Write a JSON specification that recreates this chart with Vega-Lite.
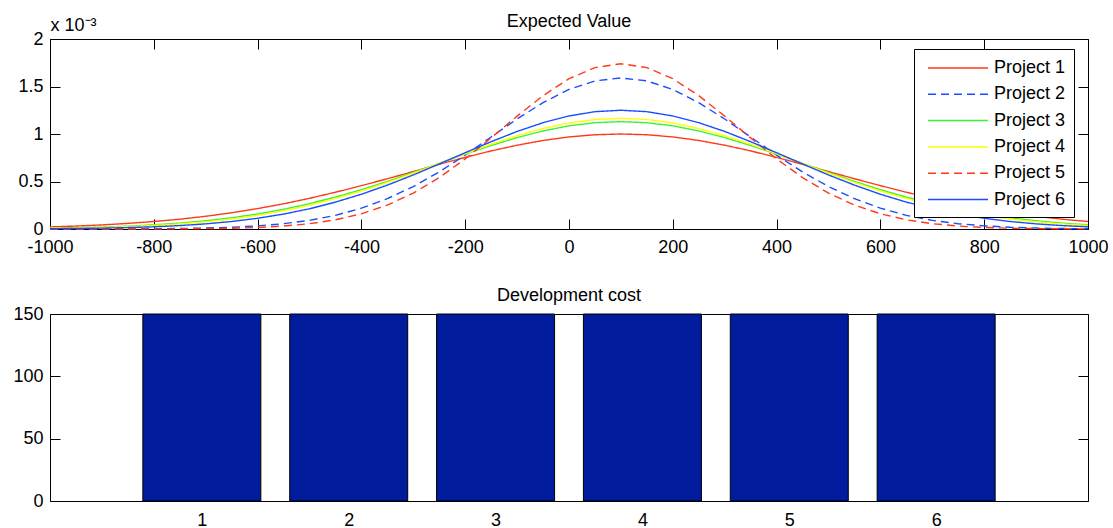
{
  "$schema": "https://vega.github.io/schema/vega-lite/v6.json",
  "background": "white",
  "padding": {"left": 12, "top": 12, "right": 5, "bottom": 5},
  "spacing": 29,
  "config": {
    "font": "Liberation Sans",
    "view": {"stroke": "black", "strokeWidth": 1},
    "axis": {"labelFont": "Liberation Sans", "labelFontSize": 18, "labelColor": "black", "tickColor": "black", "tickWidth": 1, "domain": false, "grid": false},
    "title": {"font": "Liberation Sans", "fontSize": 18, "fontWeight": "normal", "color": "black"},
    "legend": {"orient": "none", "legendX": 864, "legendY": 10, "strokeColor": "black", "fillColor": "white", "padding": 8, "symbolType": "M-3,0H3", "symbolSize": 400, "symbolOffset": 25, "symbolStrokeWidth": 1.5, "labelFontSize": 18, "labelFont": "Liberation Sans", "labelColor": "black", "labelOffset": 25, "rowPadding": 6.3, "cornerRadius": 0}
  },
  "vconcat": [
    {
      "width": 1038,
      "height": 190,
      "title": {"text": "Expected Value", "offset": -15},
      "data": {"values": [
        {"x":-1000,"y":0.022,"s":"Project 1"},{"x":-950,"y":0.031,"s":"Project 1"},{"x":-900,"y":0.043,"s":"Project 1"},{"x":-850,"y":0.059,"s":"Project 1"},{"x":-800,"y":0.079,"s":"Project 1"},{"x":-750,"y":0.103,"s":"Project 1"},{"x":-700,"y":0.134,"s":"Project 1"},{"x":-650,"y":0.171,"s":"Project 1"},{"x":-600,"y":0.215,"s":"Project 1"},{"x":-550,"y":0.265,"s":"Project 1"},{"x":-500,"y":0.323,"s":"Project 1"},{"x":-450,"y":0.387,"s":"Project 1"},{"x":-400,"y":0.456,"s":"Project 1"},{"x":-350,"y":0.529,"s":"Project 1"},{"x":-300,"y":0.605,"s":"Project 1"},{"x":-250,"y":0.681,"s":"Project 1"},{"x":-200,"y":0.754,"s":"Project 1"},{"x":-150,"y":0.822,"s":"Project 1"},{"x":-100,"y":0.882,"s":"Project 1"},{"x":-50,"y":0.932,"s":"Project 1"},{"x":0,"y":0.969,"s":"Project 1"},{"x":50,"y":0.992,"s":"Project 1"},{"x":100,"y":1.0,"s":"Project 1"},{"x":150,"y":0.992,"s":"Project 1"},{"x":200,"y":0.969,"s":"Project 1"},{"x":250,"y":0.932,"s":"Project 1"},{"x":300,"y":0.882,"s":"Project 1"},{"x":350,"y":0.822,"s":"Project 1"},{"x":400,"y":0.754,"s":"Project 1"},{"x":450,"y":0.681,"s":"Project 1"},{"x":500,"y":0.605,"s":"Project 1"},{"x":550,"y":0.529,"s":"Project 1"},{"x":600,"y":0.456,"s":"Project 1"},{"x":650,"y":0.387,"s":"Project 1"},{"x":700,"y":0.323,"s":"Project 1"},{"x":750,"y":0.265,"s":"Project 1"},{"x":800,"y":0.215,"s":"Project 1"},{"x":850,"y":0.171,"s":"Project 1"},{"x":900,"y":0.134,"s":"Project 1"},{"x":950,"y":0.103,"s":"Project 1"},{"x":1000,"y":0.079,"s":"Project 1"},
        {"x":-1000,"y":0.0,"s":"Project 2"},{"x":-950,"y":0.0,"s":"Project 2"},{"x":-900,"y":0.001,"s":"Project 2"},{"x":-850,"y":0.001,"s":"Project 2"},{"x":-800,"y":0.003,"s":"Project 2"},{"x":-750,"y":0.005,"s":"Project 2"},{"x":-700,"y":0.01,"s":"Project 2"},{"x":-650,"y":0.018,"s":"Project 2"},{"x":-600,"y":0.033,"s":"Project 2"},{"x":-550,"y":0.056,"s":"Project 2"},{"x":-500,"y":0.091,"s":"Project 2"},{"x":-450,"y":0.144,"s":"Project 2"},{"x":-400,"y":0.219,"s":"Project 2"},{"x":-350,"y":0.319,"s":"Project 2"},{"x":-300,"y":0.447,"s":"Project 2"},{"x":-250,"y":0.601,"s":"Project 2"},{"x":-200,"y":0.778,"s":"Project 2"},{"x":-150,"y":0.968,"s":"Project 2"},{"x":-100,"y":1.158,"s":"Project 2"},{"x":-50,"y":1.33,"s":"Project 2"},{"x":0,"y":1.469,"s":"Project 2"},{"x":50,"y":1.559,"s":"Project 2"},{"x":100,"y":1.59,"s":"Project 2"},{"x":150,"y":1.559,"s":"Project 2"},{"x":200,"y":1.469,"s":"Project 2"},{"x":250,"y":1.33,"s":"Project 2"},{"x":300,"y":1.158,"s":"Project 2"},{"x":350,"y":0.968,"s":"Project 2"},{"x":400,"y":0.778,"s":"Project 2"},{"x":450,"y":0.601,"s":"Project 2"},{"x":500,"y":0.447,"s":"Project 2"},{"x":550,"y":0.319,"s":"Project 2"},{"x":600,"y":0.219,"s":"Project 2"},{"x":650,"y":0.144,"s":"Project 2"},{"x":700,"y":0.091,"s":"Project 2"},{"x":750,"y":0.056,"s":"Project 2"},{"x":800,"y":0.033,"s":"Project 2"},{"x":850,"y":0.018,"s":"Project 2"},{"x":900,"y":0.01,"s":"Project 2"},{"x":950,"y":0.005,"s":"Project 2"},{"x":1000,"y":0.003,"s":"Project 2"},
        {"x":-1000,"y":0.009,"s":"Project 3"},{"x":-950,"y":0.014,"s":"Project 3"},{"x":-900,"y":0.02,"s":"Project 3"},{"x":-850,"y":0.03,"s":"Project 3"},{"x":-800,"y":0.044,"s":"Project 3"},{"x":-750,"y":0.062,"s":"Project 3"},{"x":-700,"y":0.087,"s":"Project 3"},{"x":-650,"y":0.118,"s":"Project 3"},{"x":-600,"y":0.158,"s":"Project 3"},{"x":-550,"y":0.207,"s":"Project 3"},{"x":-500,"y":0.267,"s":"Project 3"},{"x":-450,"y":0.336,"s":"Project 3"},{"x":-400,"y":0.414,"s":"Project 3"},{"x":-350,"y":0.501,"s":"Project 3"},{"x":-300,"y":0.595,"s":"Project 3"},{"x":-250,"y":0.691,"s":"Project 3"},{"x":-200,"y":0.788,"s":"Project 3"},{"x":-150,"y":0.879,"s":"Project 3"},{"x":-100,"y":0.962,"s":"Project 3"},{"x":-50,"y":1.032,"s":"Project 3"},{"x":0,"y":1.086,"s":"Project 3"},{"x":50,"y":1.119,"s":"Project 3"},{"x":100,"y":1.13,"s":"Project 3"},{"x":150,"y":1.119,"s":"Project 3"},{"x":200,"y":1.086,"s":"Project 3"},{"x":250,"y":1.032,"s":"Project 3"},{"x":300,"y":0.962,"s":"Project 3"},{"x":350,"y":0.879,"s":"Project 3"},{"x":400,"y":0.788,"s":"Project 3"},{"x":450,"y":0.691,"s":"Project 3"},{"x":500,"y":0.595,"s":"Project 3"},{"x":550,"y":0.501,"s":"Project 3"},{"x":600,"y":0.414,"s":"Project 3"},{"x":650,"y":0.336,"s":"Project 3"},{"x":700,"y":0.267,"s":"Project 3"},{"x":750,"y":0.207,"s":"Project 3"},{"x":800,"y":0.158,"s":"Project 3"},{"x":850,"y":0.118,"s":"Project 3"},{"x":900,"y":0.087,"s":"Project 3"},{"x":950,"y":0.062,"s":"Project 3"},{"x":1000,"y":0.044,"s":"Project 3"},
        {"x":-1000,"y":0.007,"s":"Project 4"},{"x":-950,"y":0.01,"s":"Project 4"},{"x":-900,"y":0.016,"s":"Project 4"},{"x":-850,"y":0.025,"s":"Project 4"},{"x":-800,"y":0.037,"s":"Project 4"},{"x":-750,"y":0.053,"s":"Project 4"},{"x":-700,"y":0.076,"s":"Project 4"},{"x":-650,"y":0.105,"s":"Project 4"},{"x":-600,"y":0.143,"s":"Project 4"},{"x":-550,"y":0.191,"s":"Project 4"},{"x":-500,"y":0.25,"s":"Project 4"},{"x":-450,"y":0.32,"s":"Project 4"},{"x":-400,"y":0.4,"s":"Project 4"},{"x":-350,"y":0.49,"s":"Project 4"},{"x":-300,"y":0.588,"s":"Project 4"},{"x":-250,"y":0.69,"s":"Project 4"},{"x":-200,"y":0.793,"s":"Project 4"},{"x":-150,"y":0.892,"s":"Project 4"},{"x":-100,"y":0.982,"s":"Project 4"},{"x":-50,"y":1.058,"s":"Project 4"},{"x":0,"y":1.116,"s":"Project 4"},{"x":50,"y":1.153,"s":"Project 4"},{"x":100,"y":1.165,"s":"Project 4"},{"x":150,"y":1.153,"s":"Project 4"},{"x":200,"y":1.116,"s":"Project 4"},{"x":250,"y":1.058,"s":"Project 4"},{"x":300,"y":0.982,"s":"Project 4"},{"x":350,"y":0.892,"s":"Project 4"},{"x":400,"y":0.793,"s":"Project 4"},{"x":450,"y":0.69,"s":"Project 4"},{"x":500,"y":0.588,"s":"Project 4"},{"x":550,"y":0.49,"s":"Project 4"},{"x":600,"y":0.4,"s":"Project 4"},{"x":650,"y":0.32,"s":"Project 4"},{"x":700,"y":0.25,"s":"Project 4"},{"x":750,"y":0.191,"s":"Project 4"},{"x":800,"y":0.143,"s":"Project 4"},{"x":850,"y":0.105,"s":"Project 4"},{"x":900,"y":0.076,"s":"Project 4"},{"x":950,"y":0.053,"s":"Project 4"},{"x":1000,"y":0.037,"s":"Project 4"},
        {"x":-1000,"y":0.0,"s":"Project 5"},{"x":-950,"y":0.0,"s":"Project 5"},{"x":-900,"y":0.0,"s":"Project 5"},{"x":-850,"y":0.0,"s":"Project 5"},{"x":-800,"y":0.001,"s":"Project 5"},{"x":-750,"y":0.002,"s":"Project 5"},{"x":-700,"y":0.004,"s":"Project 5"},{"x":-650,"y":0.008,"s":"Project 5"},{"x":-600,"y":0.016,"s":"Project 5"},{"x":-550,"y":0.031,"s":"Project 5"},{"x":-500,"y":0.056,"s":"Project 5"},{"x":-450,"y":0.097,"s":"Project 5"},{"x":-400,"y":0.16,"s":"Project 5"},{"x":-350,"y":0.252,"s":"Project 5"},{"x":-300,"y":0.378,"s":"Project 5"},{"x":-250,"y":0.541,"s":"Project 5"},{"x":-200,"y":0.738,"s":"Project 5"},{"x":-150,"y":0.959,"s":"Project 5"},{"x":-100,"y":1.188,"s":"Project 5"},{"x":-50,"y":1.404,"s":"Project 5"},{"x":0,"y":1.582,"s":"Project 5"},{"x":50,"y":1.699,"s":"Project 5"},{"x":100,"y":1.74,"s":"Project 5"},{"x":150,"y":1.699,"s":"Project 5"},{"x":200,"y":1.582,"s":"Project 5"},{"x":250,"y":1.404,"s":"Project 5"},{"x":300,"y":1.188,"s":"Project 5"},{"x":350,"y":0.959,"s":"Project 5"},{"x":400,"y":0.738,"s":"Project 5"},{"x":450,"y":0.541,"s":"Project 5"},{"x":500,"y":0.378,"s":"Project 5"},{"x":550,"y":0.252,"s":"Project 5"},{"x":600,"y":0.16,"s":"Project 5"},{"x":650,"y":0.097,"s":"Project 5"},{"x":700,"y":0.056,"s":"Project 5"},{"x":750,"y":0.031,"s":"Project 5"},{"x":800,"y":0.016,"s":"Project 5"},{"x":850,"y":0.008,"s":"Project 5"},{"x":900,"y":0.004,"s":"Project 5"},{"x":950,"y":0.002,"s":"Project 5"},{"x":1000,"y":0.001,"s":"Project 5"},
        {"x":-1000,"y":0.003,"s":"Project 6"},{"x":-950,"y":0.006,"s":"Project 6"},{"x":-900,"y":0.009,"s":"Project 6"},{"x":-850,"y":0.015,"s":"Project 6"},{"x":-800,"y":0.023,"s":"Project 6"},{"x":-750,"y":0.036,"s":"Project 6"},{"x":-700,"y":0.054,"s":"Project 6"},{"x":-650,"y":0.079,"s":"Project 6"},{"x":-600,"y":0.113,"s":"Project 6"},{"x":-550,"y":0.157,"s":"Project 6"},{"x":-500,"y":0.213,"s":"Project 6"},{"x":-450,"y":0.283,"s":"Project 6"},{"x":-400,"y":0.366,"s":"Project 6"},{"x":-350,"y":0.462,"s":"Project 6"},{"x":-300,"y":0.569,"s":"Project 6"},{"x":-250,"y":0.685,"s":"Project 6"},{"x":-200,"y":0.803,"s":"Project 6"},{"x":-150,"y":0.919,"s":"Project 6"},{"x":-100,"y":1.027,"s":"Project 6"},{"x":-50,"y":1.119,"s":"Project 6"},{"x":0,"y":1.19,"s":"Project 6"},{"x":50,"y":1.235,"s":"Project 6"},{"x":100,"y":1.25,"s":"Project 6"},{"x":150,"y":1.235,"s":"Project 6"},{"x":200,"y":1.19,"s":"Project 6"},{"x":250,"y":1.119,"s":"Project 6"},{"x":300,"y":1.027,"s":"Project 6"},{"x":350,"y":0.919,"s":"Project 6"},{"x":400,"y":0.803,"s":"Project 6"},{"x":450,"y":0.685,"s":"Project 6"},{"x":500,"y":0.569,"s":"Project 6"},{"x":550,"y":0.462,"s":"Project 6"},{"x":600,"y":0.366,"s":"Project 6"},{"x":650,"y":0.283,"s":"Project 6"},{"x":700,"y":0.213,"s":"Project 6"},{"x":750,"y":0.157,"s":"Project 6"},{"x":800,"y":0.113,"s":"Project 6"},{"x":850,"y":0.079,"s":"Project 6"},{"x":900,"y":0.054,"s":"Project 6"},{"x":950,"y":0.036,"s":"Project 6"},{"x":1000,"y":0.023,"s":"Project 6"}
      ]},
      "layer": [
        {
          "mark": {"type": "line", "strokeWidth": 1.4},
          "encoding": {
            "x": {"field": "x", "type": "quantitative", "scale": {"domain": [-1000, 1000], "nice": false, "zero": false},
                  "axis": {"orient": "bottom", "values": [-1000,-800,-600,-400,-200,0,200,400,600,800,1000], "ticks": false, "labelPadding": 9, "labelFlush": false, "labelOverlap": false, "labelExpr": "'' + datum.value", "title": null}},
            "y": {"field": "y", "type": "quantitative", "scale": {"domain": [0, 2], "nice": false},
                  "axis": {"orient": "left", "values": [0, 0.5, 1, 1.5, 2], "format": "~g", "ticks": false, "labelPadding": 7, "title": "x 10⁻³", "titleAngle": 0, "titleAlign": "left", "titleBaseline": "alphabetic", "titleX": 0, "titleY": -9, "titleFontSize": 18, "titleFontWeight": "normal", "titleFont": "Liberation Sans", "titleColor": "black"}},
            "color": {"field": "s", "type": "nominal", "scale": {"domain": ["Project 1","Project 2","Project 3","Project 4","Project 5","Project 6"], "range": ["#ff3a1a","#1a4dff","#3cf03c","#ffff00","#ff3a1a","#1a4dff"]}, "legend": {"title": null}},
            "strokeDash": {"field": "s", "type": "nominal", "scale": {"domain": ["Project 1","Project 2","Project 3","Project 4","Project 5","Project 6"], "range": [[1,0],[8,5],[1,0],[1,0],[8,5],[1,0]]}, "legend": {"title": null}}
          }
        },
        {
          "mark": {"type": "line", "opacity": 0},
          "encoding": {
            "x": {"field": "x", "type": "quantitative", "axis": {"orient": "bottom", "offset": -10, "values": [-1000,-800,-600,-400,-200,0,200,400,600,800,1000], "tickSize": 10, "labels": false, "title": null}},
            "y": {"field": "y", "type": "quantitative", "axis": {"orient": "left", "offset": -10, "values": [0, 0.5, 1, 1.5, 2], "tickSize": 10, "labels": false, "title": null}},
            "detail": {"field": "s"}
          }
        },
        {
          "mark": {"type": "line", "opacity": 0},
          "encoding": {
            "x": {"field": "x", "type": "quantitative", "axis": {"orient": "bottom", "offset": -190, "values": [-1000,-800,-600,-400,-200,0,200,400,600,800,1000], "tickSize": 10, "labels": false, "title": null}},
            "y": {"field": "y", "type": "quantitative", "axis": {"orient": "left", "offset": -1038, "values": [0, 0.5, 1, 1.5, 2], "tickSize": 10, "labels": false, "title": null}},
            "detail": {"field": "s"}
          }
        }
      ],
      "resolve": {"axis": {"x": "independent", "y": "independent"}}
    },
    {
      "width": 1038,
      "height": 187,
      "title": {"text": "Development cost", "offset": 0},
      "data": {"values": [
        {"p": 1, "cost": 150}, {"p": 2, "cost": 150}, {"p": 3, "cost": 150},
        {"p": 4, "cost": 150}, {"p": 5, "cost": 150}, {"p": 6, "cost": 150}
      ]},
      "layer": [
        {
          "mark": {"type": "bar", "fill": "#001c9c", "stroke": "black", "strokeWidth": 1, "size": 118},
          "encoding": {
            "x": {"field": "p", "type": "quantitative", "scale": {"domain": [0, 7], "nice": false, "zero": false},
                  "axis": {"orient": "bottom", "values": [1,2,3,4,5,6], "ticks": false, "labelPadding": 10, "labelFlush": false, "title": null}},
            "y": {"field": "cost", "type": "quantitative", "scale": {"domain": [0, 150], "nice": false},
                  "axis": {"orient": "left", "values": [0, 50, 100, 150], "ticks": false, "labelPadding": 7, "title": null}}
          }
        },
        {
          "mark": {"type": "bar", "opacity": 0, "size": 118},
          "encoding": {
            "x": {"field": "p", "type": "quantitative", "axis": null},
            "y": {"field": "cost", "type": "quantitative", "axis": {"orient": "left", "offset": -10, "values": [0, 50, 100, 150], "tickSize": 10, "labels": false, "title": null}}
          }
        },
        {
          "mark": {"type": "bar", "opacity": 0, "size": 118},
          "encoding": {
            "x": {"field": "p", "type": "quantitative", "axis": null},
            "y": {"field": "cost", "type": "quantitative", "axis": {"orient": "left", "offset": -1038, "values": [0, 50, 100, 150], "tickSize": 10, "labels": false, "title": null}}
          }
        }
      ],
      "resolve": {"axis": {"x": "independent", "y": "independent"}}
    }
  ]
}
